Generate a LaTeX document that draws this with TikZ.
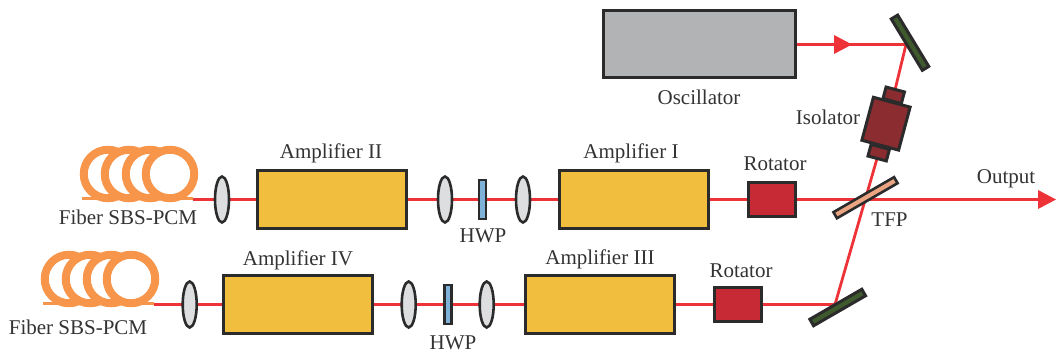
\documentclass[tikz,border=0pt]{standalone}
\usepackage{fontspec}
\setmainfont{Liberation Serif}
\usetikzlibrary{backgrounds,shapes.geometric}
\definecolor{beam}{HTML}{EE3338}
\definecolor{edgec}{HTML}{2B2B2B}
\definecolor{amp}{HTML}{F2BE3E}
\definecolor{osc}{HTML}{B1B3B5}
\definecolor{rot}{HTML}{C82A35}
\definecolor{iso}{HTML}{8A2C30}
\definecolor{mirr}{HTML}{3F5A2C}
\definecolor{tfpc}{HTML}{EBA583}
\definecolor{hwpc}{HTML}{7FB2D8}
\definecolor{lensc}{HTML}{DCDEE0}
\definecolor{fib}{HTML}{F7964A}
\definecolor{txt}{HTML}{333333}
\tikzset{
 x=1pt,y=-1pt,
 part/.style={draw=edgec,line width=3pt,inner sep=0pt,outer sep=0pt,rectangle},
 ampbox/.style={part,fill=amp,minimum width=149pt,minimum height=58pt},
 rotbox/.style={part,fill=rot,minimum width=47pt,minimum height=34pt},
 oscbox/.style={part,fill=osc,minimum width=192pt,minimum height=67pt},
 mirror/.style={part,fill=mirr,minimum width=60pt,minimum height=7.5pt},
 tfpbox/.style={part,fill=tfpc,minimum width=70pt,minimum height=7pt,line width=2.6pt},
 hwpbox/.style={part,fill=hwpc,minimum width=7pt,minimum height=39pt,line width=2.6pt},
 lens/.style={draw=edgec,line width=2.6pt,fill=lensc,ellipse,inner sep=0pt,outer sep=0pt,minimum width=14pt,minimum height=46pt},
 isobody/.style={part,fill=iso,minimum width=38pt,minimum height=44.5pt,rotate=-15},
 isocap/.style={part,fill=iso,minimum width=19pt,minimum height=12pt,rotate=-15},
 coil/.style={draw=fib,line width=8pt,fill=white,circle,inner sep=0pt,outer sep=0pt,minimum size=48.5pt},
 ray/.style={draw=beam,line width=2.8pt},
 fibline/.style={draw=fib,line width=3pt},
 lbl/.style={text=txt,font=\fontsize{21}{24}\selectfont,inner sep=0pt},
}
\begin{document}
\begin{tikzpicture}
\useasboundingbox (0,0) rectangle (1056,355);
% upper chain
\node[coil] (c1a) at (108,174) {};
\node[coil] (c1b) at (129,174) {};
\node[coil] (c1c) at (150,174) {};
\node[coil] (c1d) at (170,174) {};
\coordinate (f1l) at (82,198.8);
\coordinate (f1r) at (193,198.8);
\draw[fibline] (f1l) -- (f1r);
\node[lens] (l1) at (222,199.5) {};
\node[ampbox] (a2) at (331.5,199.5) {};
\node[lens] (l2) at (445,199.5) {};
\node[hwpbox] (h1) at (482.5,199.5) {};
\node[lens] (l3) at (523,199.5) {};
\node[ampbox] (a1) at (633.5,199.5) {};
\node[rotbox] (r1) at (771.5,199.5) {};
% lower chain
\node[coil] (c2a) at (69,279) {};
\node[coil] (c2b) at (90,279) {};
\node[coil] (c2c) at (111,279) {};
\node[coil] (c2d) at (131,279) {};
\coordinate (f2l) at (43,303.8);
\coordinate (f2r) at (154,303.8);
\draw[fibline] (f2l) -- (f2r);
\node[lens] (l4) at (189.7,304.5) {};
\node[ampbox] (a4) at (297.5,304.5) {};
\node[lens] (l5) at (408.7,304.5) {};
\node[hwpbox] (h2) at (448,304.5) {};
\node[lens] (l6) at (486.7,304.5) {};
\node[ampbox] (a3) at (599.5,304.5) {};
\node[rotbox] (r2) at (737.5,304.5) {};
% oscillator, mirrors
\node[oscbox] (o) at (699,44.5) {};
\node[mirror,rotate=-58.8] (m1) at (910,42.7) {};
\node[mirror,rotate=30] (m2) at (837.7,307.5) {};
\coordinate (p1) at (906,44.5);
\coordinate (p2) at (835,304.5);
\node[isocap] (capt) at (893.7,95.3) {};
\node[isocap] (capb) at (878.7,152.7) {};
\node[isobody] (isol) at (886,123.7) {};
\node[tfpbox,rotate=30] (t) at (865.5,197.7) {};
\coordinate (oute) at (1040,199.5);
% rays
\begin{pgfonlayer}{background}
\draw[ray] (f1r |- l1) -- (l1) -- (a2);
\draw[ray] (a2) -- (l2) -- (h1) -- (l3) -- (a1);
\draw[ray] (a1) -- (r1);
\draw[ray] (f2r |- l4) -- (l4) -- (a4);
\draw[ray] (a4) -- (l5) -- (h2) -- (l6) -- (a3);
\draw[ray] (a3) -- (r2);
\draw[ray] (r2.east) -- (p2);
\draw[ray] (p2) -- (capb);
\draw[ray] (capt) -- (p1);
\draw[ray] (o.east) -- (p1);
\draw[ray] (r1.east) -- (oute);
\end{pgfonlayer}
\fill[beam] (1038,190) -- (1056,199.5) -- (1038,209) -- cycle;
\fill[beam] (834,35) -- (852,44.5) -- (834,54) -- cycle;
% labels
\node[lbl] (t1) at (699,97) {Oscillator};
\node[lbl] (t2) at (828,117) {Isolator};
\node[lbl] (t3) at (331,153.5) {Amplifier II};
\node[lbl] (t4) at (631,153.5) {Amplifier I};
\node[lbl] (t5) at (775,164) {Rotator};
\node[lbl] (t6) at (1006,178.5) {Output};
\node[lbl] (t7) at (889.5,220) {TFP};
\node[lbl] (t8) at (483,236) {HWP};
\node[lbl] (t9) at (453,343) {HWP};
\node[lbl] (t10) at (298,260.5) {Amplifier IV};
\node[lbl] (t11) at (600,259.5) {Amplifier III};
\node[lbl] (t12) at (741,271) {Rotator};
\node[lbl] (t13) at (128,217) {Fiber SBS-PCM};
\node[lbl] (t14) at (78,327) {Fiber SBS-PCM};
\end{tikzpicture}
\end{document}
